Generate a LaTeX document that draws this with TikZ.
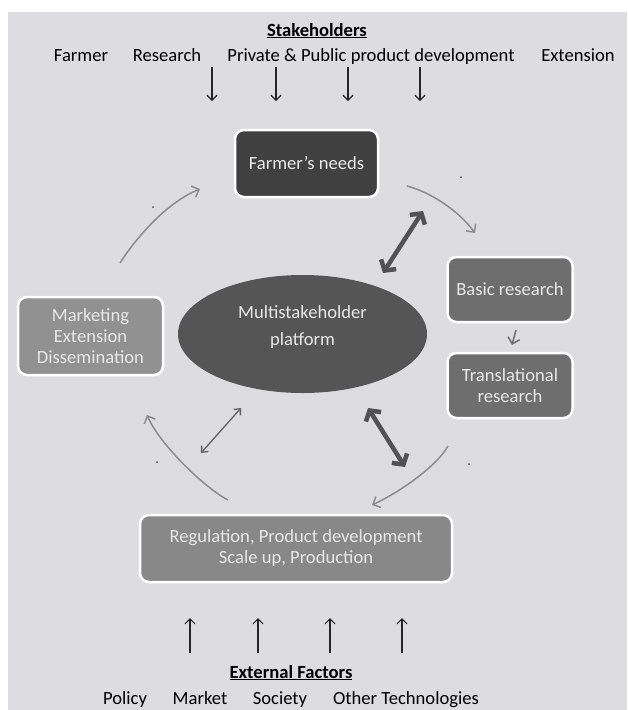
\documentclass[tikz,border=0pt]{standalone}
\usepackage{fontspec}
\setmainfont{Carlito}
\usetikzlibrary{arrows.meta, shapes.geometric}
\definecolor{my_bg}{RGB}{221, 221, 223}
\definecolor{my_dark}{RGB}{64, 64, 64}
\definecolor{my_ellipse}{RGB}{85, 85, 85}
\definecolor{my_mid}{RGB}{110, 110, 110}
\definecolor{my_light}{RGB}{145, 145, 145}
\definecolor{my_reg}{RGB}{136, 136, 136}
\definecolor{my_text}{RGB}{232, 232, 232}
\definecolor{my_arc}{RGB}{140, 140, 140}
\definecolor{my_thick}{RGB}{82, 82, 82}
\tikzset {
  box/.style = {draw=white, line width=2.5pt, rounded corners=9pt, rectangle, text=my_text, align=center, font=\fontsize{18.6}{21}\selectfont},
  platform/.style = {ellipse, fill=my_ellipse, minimum width=249pt, minimum height=118pt, inner sep=0},
  boxtext/.style = {text=my_text, align=center, font=\fontsize{18.6}{27}\selectfont},
  word/.style = {inner sep=0, anchor=base, font=\fontsize{18.6}{21}\selectfont},
  heading/.style = {inner sep=0, anchor=base, font=\fontsize{18.6}{21}\selectfont\bfseries},
  line/.style = {my_arc, line width=1.5pt, -{Straight Barb[length=6pt, width=12pt]}},
  thickline/.style = {my_thick, line width=4.5pt, {Straight Barb[length=7.5pt, width=18pt]}-{Straight Barb[length=7.5pt, width=18pt]}},
  thinline/.style = {my_thick!90, line width=1.3pt, {Straight Barb[length=5pt, width=9pt]}-{Straight Barb[length=5pt, width=9pt]}},
  stkline/.style = {black!85, line width=1.2pt, -{Straight Barb[length=5pt, width=10pt]}}
}

\begin{document}
\begin{tikzpicture}[x=1pt, y=-1pt]
  \useasboundingbox (0,0) rectangle (627,710);
  \fill[my_bg] (8,12) rectangle (627,710);

  % stakeholders on top
  \node[heading] (stk) at (317,36) {\underline{Stakeholders}};
  \node[word] (farmer) at (81,61) {Farmer};
  \node[word] (research) at (167,61) {Research};
  \node[word] (private) at (371,61) {Private \& Public product development};
  \node[word] (extension) at (578,61) {Extension};
  \foreach \x [count=\i] in {212,276,348,420} {
    \coordinate (sa\i) at (\x,67);
    \coordinate (sb\i) at (\x,101);
    \draw[stkline] (sa\i) -- (sb\i);
  }

  % the cycle
  \node[box, fill=my_dark, text=my_text!90, minimum width=143pt, minimum height=67pt] (needs) at (306.5,163.5) {Farmer's needs};
  \node[box, fill=my_mid, minimum width=125pt, minimum height=65pt] (basic) at (510,289.5) {Basic research};
  \node[box, fill=my_mid, minimum width=125pt, minimum height=65pt] (trans) at (510,385.5) {Translational\\research};
  \node[box, fill=my_reg, minimum width=312pt, minimum height=67pt] (reg) at (296,548.5) {Regulation, Product development\\Scale up, Production};
  \node[box, fill=my_light, minimum width=145pt, minimum height=78pt] (mkt) at (90.5,336) {Marketing\\Extension\\Dissemination};
  \node[platform] (platform) at (302.5,334) {};
  \node[boxtext] (platformtext) at ([yshift=7pt]platform.center) {Multistakeholder\\platform};

  \coordinate (a1s) at (407,186);  \coordinate (a1e) at (475,233);
  \coordinate (a2s) at (516,330);  \coordinate (a2e) at (512,345);
  \coordinate (a3s) at (448,446);  \coordinate (a3e) at (372,505);
  \coordinate (a4s) at (228,500);  \coordinate (a4e) at (147,415);
  \coordinate (a5s) at (120,263);  \coordinate (a5e) at (200,189);
  \draw[line] (a1s) .. controls (430,192) and (458,210) .. (a1e);
  \draw[line, my_arc!80!black] (a2s) -- (a2e);
  \draw[line] (a3s) .. controls (437,466) and (400,492) .. (a3e);
  \draw[line] (a4s) .. controls (205,488) and (160,445) .. (a4e);
  \draw[line] (a5s) .. controls (138,235) and (168,202) .. (a5e);

  % links to the platform
  \coordinate (d1s) at (383,273);  \coordinate (d1e) at (423,211);
  \coordinate (d2s) at (368,408);  \coordinate (d2e) at (405,467);
  \coordinate (d3s) at (241,408);  \coordinate (d3e) at (201,453);
  \draw[thickline] (d1s) -- (d1e);
  \draw[thickline] (d2s) -- (d2e);
  \draw[thinline] (d3s) -- (d3e);

  \foreach \p in {(461,177),(153,207),(157,462),(469,464)}
    \fill[black!70] \p circle (1pt);

  % external factors at the bottom
  \foreach \x [count=\i] in {190,258,330,402} {
    \coordinate (ea\i) at (\x,653);
    \coordinate (eb\i) at (\x,618);
    \draw[stkline] (ea\i) -- (eb\i);
  }
  \node[heading] (ext) at (291,678) {\underline{External Factors}};
  \node[word] (policy) at (125,704) {Policy};
  \node[word] (market) at (200,704) {Market};
  \node[word] (society) at (280,704) {Society};
  \node[word] (othertech) at (406,704) {Other Technologies};
\end{tikzpicture}
\end{document}
